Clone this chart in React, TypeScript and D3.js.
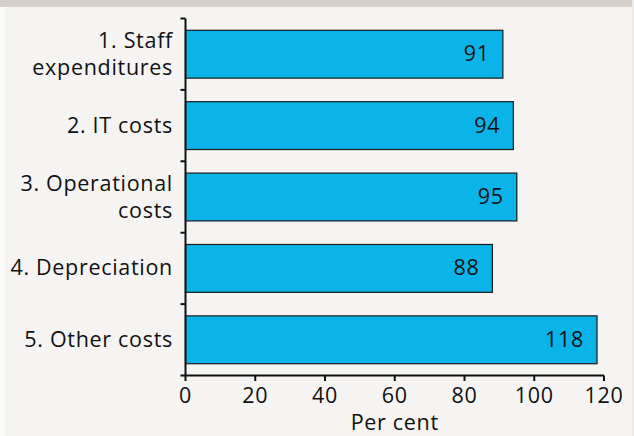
import React from "react";
import * as d3 from "d3";

const categories: string[][] = [
  ["1. Staff", "expenditures"],
  ["2. IT costs"],
  ["3. Operational", "costs"],
  ["4. Depreciation"],
  ["5. Other costs"],
];
const values = [91, 94, 95, 88, 118];
const xTicks = [0, 20, 40, 60, 80, 100, 120];
const xTitle = "Per cent";

export default function App() {
  const W = 634, H = 436;
  const x = d3.scaleLinear().domain([0, 120]).range([185.5, 604]);
  const y = d3.scaleBand<number>().domain(d3.range(values.length)).range([18.5, 375.5]).paddingInner(0.33).paddingOuter(0.165);
  const font = "'Open Sans', sans-serif";
  const fs = 21.5;
  const ls = 0.7;
  const bounds = d3.range(values.length + 1).map((i) => 18.5 + (i * (375.5 - 18.5)) / values.length);
  return (
    <svg width={W} height={H} style={{ position: "absolute", left: 0, top: 0, display: "block" }}>
      <rect x={0} y={0} width={W} height={H} fill="#f5f4f2" />
      <rect x={0} y={0} width={5} height={H} fill="#fbfbfa" />
      <rect x={0} y={0} width={W - 2} height={7} fill="#d6cfca" />
      <rect x={W - 2} y={0} width={2} height={H} fill="#ecebe9" />
      {values.map((v, i) => (
        <g key={i}>
          <rect x={x(0)} y={y(i)!} width={x(v) - x(0)} height={y.bandwidth()} fill="#0ab4e8" stroke="#1a1a1a" strokeWidth={1.2} />
          <text x={x(v) - 13} y={y(i)! + y.bandwidth() / 2 + 7} textAnchor="end" fontFamily={font} fontSize={fs} letterSpacing={ls} fill="#111">{v}</text>
          <text textAnchor="end" fontFamily={font} fontSize={fs} letterSpacing={ls} fill="#111">
            {categories[i].map((line, j) => (
              <tspan key={j} x={173} y={y(i)! + y.bandwidth() / 2 + 7 + (j - (categories[i].length - 1) / 2) * 27}>{line}</tspan>
            ))}
          </text>
        </g>
      ))}
      <line x1={x(0)} x2={x(0)} y1={18.5} y2={375.5} stroke="#111" strokeWidth={2} />
      {bounds.map((b, i) => (
        <line key={i} x1={x(0) - 5} x2={x(0)} y1={b} y2={b} stroke="#111" strokeWidth={2} />
      ))}
      <line x1={x(0)} x2={x(120)} y1={375.5} y2={375.5} stroke="#111" strokeWidth={2} />
      {xTicks.map((t) => (
        <g key={t}>
          <line x1={x(t)} x2={x(t)} y1={375.5} y2={381} stroke="#111" strokeWidth={2} />
          <text x={x(t)} y={403} textAnchor="middle" fontFamily={font} fontSize={fs} letterSpacing={ls} fill="#111">{t}</text>
        </g>
      ))}
      <text x={x(60)} y={430} textAnchor="middle" fontFamily={font} fontSize={fs} letterSpacing={ls} fill="#111">{xTitle}</text>
    </svg>
  );
}
